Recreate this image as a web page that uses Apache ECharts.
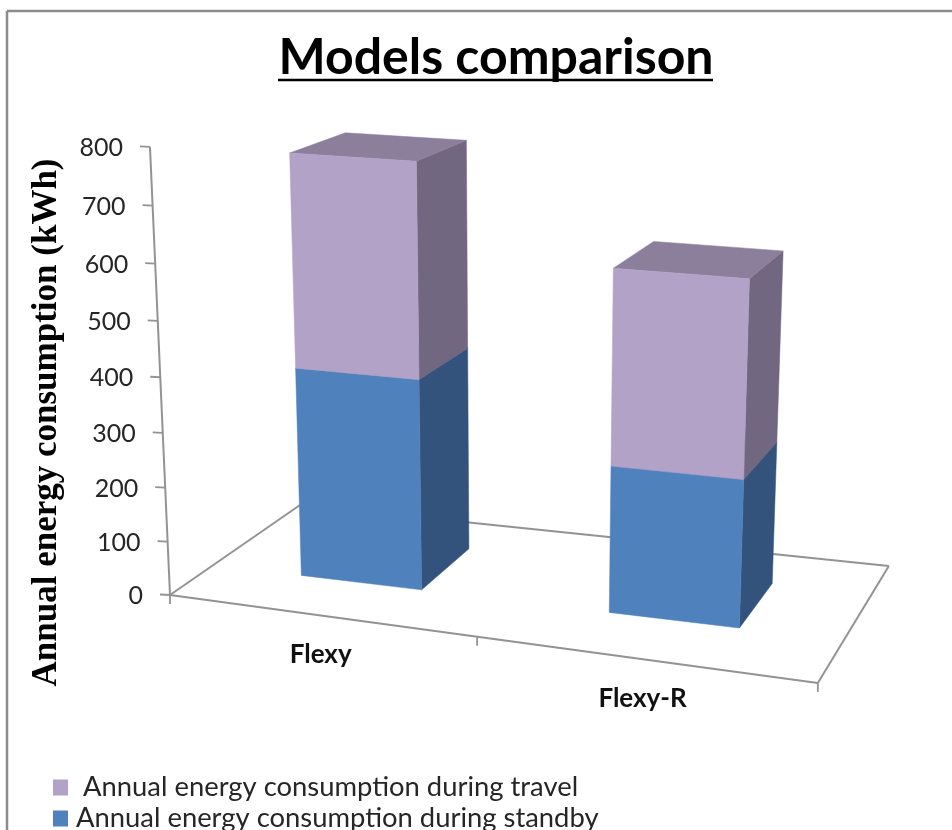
<!DOCTYPE html>
<html><head><meta charset="utf-8">
<style>html,body{margin:0;padding:0;background:#fff}#c{width:952px;height:830px}</style>
<script src="https://cdn.jsdelivr.net/npm/echarts@6/dist/echarts.min.js"></script>
</head><body><div id="c"></div>
<script>
const categories = ['Flexy', 'Flexy-R'];
const standby = [390, 268];
const travel = [384, 347];
const yTicks = [0, 100, 200, 300, 400, 500, 600, 700, 800];
const titleText = 'Models comparison';
const yName = 'Annual energy consumption (kWh)';
const nameTravel = 'Annual energy consumption during travel';
const nameStandby = 'Annual energy consumption during standby';

// Cameras: homogeneous basis of the 3D box (width, height, depth) and its origin.
const CAM_FRAME = {
  x: [510.6, -26.68, -0.1678],
  y: [-28.2, -456.1, -0.0545],
  z: [166.2, -29.16, 0.1205],
  o: [170, 595, 1]
};
const CAM_BAR = {
  x: [583.5, 27.6, -0.07885],
  y: [-28.2, -456.1, -0.0545],
  z: [166.2, -29.16, 0.1205],
  o: [170, 595, 1]
};
function project(cam, X, Y, Z) {
  const h = [0, 1, 2].map(i => cam.o[i] + X * cam.x[i] + Y * cam.y[i] + Z * cam.z[i]);
  return [h[0] / h[2], h[1] / h[2]];
}
const BAR_W = 0.2, Z0 = 0.31, Z1 = 0.745;
const FONT = 'Lato';

function barLayer(colors) {
  return function (params, api) {
    const cs = params.coordSys;
    const base = api.coord([api.value(0), api.value(1)]);
    const top = api.coord([api.value(0), api.value(2)]);
    const cx = (base[0] - cs.x) / cs.width;
    const y0 = (cs.y + cs.height - base[1]) / cs.height;
    const y1 = (cs.y + cs.height - top[1]) / cs.height;
    const xa = cx - BAR_W / 2, xb = cx + BAR_W / 2;
    const poly = (pts, fill) => ({
      type: 'polygon',
      shape: { points: pts.map(p => project(CAM_BAR, p[0], p[1], p[2])) },
      style: { fill: fill, stroke: fill, lineWidth: 0.5 }
    });
    return {
      type: 'group',
      children: [
        poly([[xb, y0, Z0], [xb, y0, Z1], [xb, y1, Z1], [xb, y1, Z0]], colors.side),
        poly([[xa, y1, Z0], [xb, y1, Z0], [xb, y1, Z1], [xa, y1, Z1]], colors.top),
        poly([[xa, y0, Z0], [xb, y0, Z0], [xb, y1, Z0], [xa, y1, Z0]], colors.front)
      ]
    };
  };
}

function frameItem(params, api) {
  const cs = params.coordSys;
  const P = (x, y, z) => project(CAM_FRAME, x, y, z);
  const line = (a, b, w) => ({
    type: 'line',
    shape: { x1: a[0], y1: a[1], x2: b[0], y2: b[1] },
    style: { stroke: '#939393', lineWidth: w || 2 }
  });
  const kids = [];
  kids.push(line(P(0, 0, 0), P(1, 0, 0)));
  kids.push(line(P(1, 0, 0), P(1, 0, 1)));
  kids.push(line(P(1, 0, 1), P(0, 0, 1)));
  kids.push(line(P(0, 0, 1), P(0, 0, 0)));
  kids.push(line(P(0, 0, 0), P(0, 1, 0)));
  yTicks.forEach(t => {
    const py = api.coord([0, t])[1];
    const Y = (cs.y + cs.height - py) / cs.height;
    const p = P(0, Y, 0);
    kids.push(line([p[0] - 10, p[1] - 0.5], p, 1.8));
    kids.push({
      type: 'text', silent: true,
      style: {
        x: p[0] - 27, y: p[1] + 1, text: String(t), align: 'right', verticalAlign: 'middle',
        font: '25px ' + FONT, fill: '#262626'
      }
    });
  });
  [0, 0.52, 1].forEach(f => {
    const p = P(f, 0, 0);
    kids.push(line(p, [p[0], p[1] + 9], 1.8));
  });
  categories.forEach((c, i) => {
    const px = api.coord([i, 0])[0];
    const p = P((px - cs.x) / cs.width, 0, 0);
    kids.push({
      type: 'text', silent: true,
      style: {
        x: p[0] + 10, y: p[1] + 41, text: c, align: 'center', verticalAlign: 'middle',
        font: 'bold 26px ' + FONT, fill: '#111'
      }
    });
  });
  return { type: 'group', children: kids };
}

const chart = echarts.init(document.getElementById('c'));
const frameData = [[0, 0, 0]];
chart.setOption({
  animation: false,
  backgroundColor: '#fff',
  title: {
    text: titleText, left: 491, top: 28, textAlign: 'center',
    textStyle: { fontFamily: FONT, fontWeight: 'bold', fontSize: 50, color: '#000' }
  },
  graphic: [
    { type: 'line', shape: { x1: 278, y1: 80, x2: 713, y2: 80 }, style: { stroke: '#000', lineWidth: 2.5 } },
    { type: 'line', shape: { x1: 7, y1: 830, x2: 7, y2: 11 }, style: { stroke: '#8c8c8c', lineWidth: 2.5 } },
    { type: 'line', shape: { x1: 7, y1: 11, x2: 952, y2: 11 }, style: { stroke: '#8c8c8c', lineWidth: 2.5 } }
  ],
  grid: { left: 170, top: 148, width: 650, height: 447, containLabel: false },
  xAxis: { type: 'category', data: categories, show: false },
  yAxis: {
    type: 'value', min: 0, max: 800, interval: 100,
    name: yName, nameLocation: 'middle', nameRotate: 90, nameGap: 106,
    nameTextStyle: { fontFamily: 'Liberation Serif', fontWeight: 'bold', fontSize: 35, color: '#000', padding: [0, 102, 0, 0] },
    axisLine: { show: false }, axisTick: { show: false }, axisLabel: { show: false }, splitLine: { show: false }
  },
  legend: [
    { data: [nameTravel], left: 48, top: 769, itemWidth: 15, itemHeight: 16, icon: 'rect', selectedMode: false,
      formatter: n => ' ' + n,
      textStyle: { fontFamily: FONT, fontSize: 27.4, color: '#262626', padding: [0, 0, 0, 3] } },
    { data: [nameStandby], left: 48, top: 800, itemWidth: 15, itemHeight: 16, icon: 'rect', selectedMode: false,
      textStyle: { fontFamily: FONT, fontSize: 27.4, color: '#262626', padding: [0, 0, 0, 3] } }
  ],
  series: [
    { type: 'custom', name: 'frame', silent: true, clip: false, z: 1, data: frameData, renderItem: frameItem },
    { type: 'custom', name: nameStandby, silent: true, z: 2, clip: false,
      itemStyle: { color: '#4F81BD' },
      data: categories.map((c, i) => [i, 0, standby[i]]),
      encode: { x: 0, y: [1, 2] },
      renderItem: barLayer({ front: '#4F81BD', side: '#33537D', top: '#3F6797' }) },
    { type: 'custom', name: nameTravel, silent: true, z: 3, clip: false,
      itemStyle: { color: '#B3A2C7' },
      data: categories.map((c, i) => [i, standby[i], standby[i] + travel[i]]),
      encode: { x: 0, y: [1, 2] },
      renderItem: barLayer({ front: '#B3A2C7', side: '#726780', top: '#8C7F9C' }) }
  ]
});
</script></body></html>
